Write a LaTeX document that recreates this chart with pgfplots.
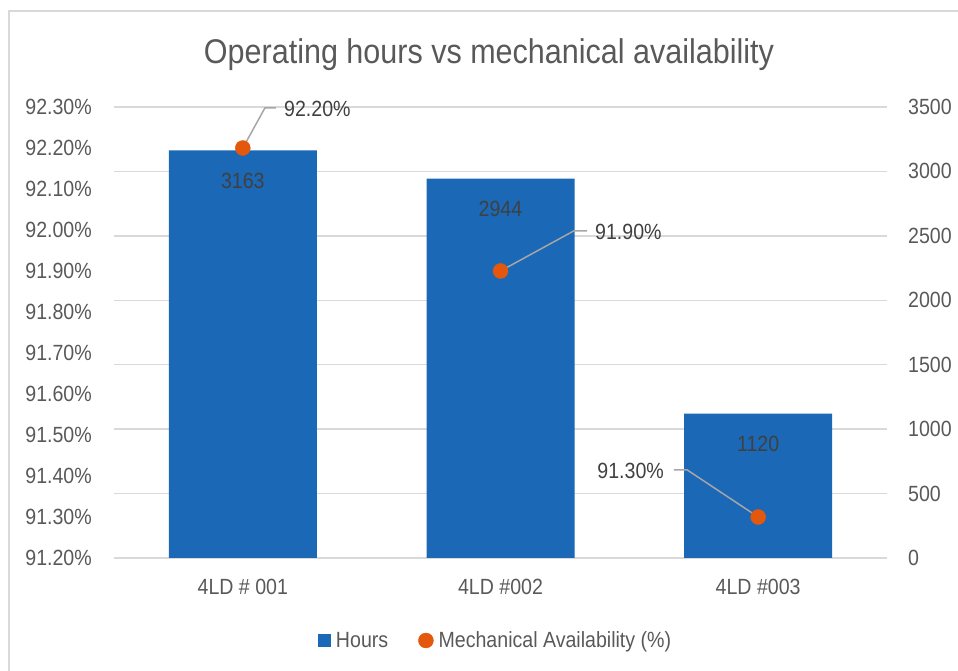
\documentclass[border=0pt]{standalone}
\usepackage{fontspec}
\setmainfont{Liberation Sans}[FakeStretch=0.89]
\usepackage{pgfplots}
\pgfplotsset{compat=1.18}
\pgfplotsset{/pgf/number format/assume math mode=true, /pgf/number format/1000 sep={}}

\definecolor{barblue}{RGB}{26,104,182}
\definecolor{dotorange}{RGB}{228,88,14}
\definecolor{gridgray}{RGB}{217,217,217}
\definecolor{txtgray}{RGB}{89,89,89}
\definecolor{lblgray}{RGB}{64,64,64}
\definecolor{leadgray}{RGB}{166,166,166}

\newcommand{\tickfont}{\fontsize{22}{26}\selectfont}

\begin{document}
\begin{tikzpicture}
\useasboundingbox (-114pt,-113pt) rectangle (844pt,558pt);
\draw[gridgray, line width=1.5pt] (-105pt,-130pt) -- (-105pt,547pt) -- (870pt,547pt);

% Bars (right axis)
\begin{axis}[
  at={(0pt,0pt)}, anchor=south west,
  scale only axis, width=773pt, height=451pt,
  xmin=-0.5, xmax=2.5, ymin=0, ymax=3500,
  ytick={0,500,1000,1500,2000,2500,3000,3500},
  xtick={0,1,2},
  xticklabels={4LD \# 001, 4LD \#002, 4LD \#003},
  scaled ticks=false,
  ymajorgrids, grid style={gridgray, line width=1.4pt},
  axis line style={draw=none},
  major tick length=0pt,
  tick label style={font=\tickfont, text=txtgray, inner sep=0pt},
  yticklabel pos=right,
  yticklabel style={anchor=west, xshift=21pt},
  xticklabel style={anchor=base, yshift=-37pt},
  legend columns=2,
  legend style={at={(0.2639,-0.1829)}, anchor=west, draw=none, fill=none,
    inner sep=0pt, outer sep=0pt, font=\tickfont, text=txtgray,
    nodes={inner sep=0pt},
    /tikz/every odd column/.append style={column sep=5pt},
    /tikz/every even column/.append style={column sep=30pt}},
]
\addplot[ybar, bar width=148pt, fill=barblue, draw=none,
  nodes near coords,
  every node near coord/.append style={anchor=base, yshift=-38pt, font=\tickfont, text=lblgray},
  legend image code/.code={\fill[barblue] (0pt,-6.5pt) rectangle (13pt,6.5pt);}]
  coordinates {(0,3163) (1,2944) (2,1120)};
\addlegendentry{Hours}
\addlegendimage{legend image code/.code={\fill[dotorange] (7.5pt,0pt) circle (7.5pt);}}
\addlegendentry{Mechanical Availability (\%)}
\end{axis}

% Availability (left axis)
\begin{axis}[
  at={(0pt,0pt)}, anchor=south west,
  scale only axis, width=773pt, height=451pt,
  xmin=-0.5, xmax=2.5, ymin=91.2, ymax=92.3,
  ytick={91.2,91.3,91.4,91.5,91.6,91.7,91.8,91.9,92.0,92.1,92.2,92.3},
  yticklabel={\pgfmathprintnumber[fixed, fixed zerofill, precision=2]{\tick}\%},
  scaled ticks=false,
  hide x axis,
  axis line style={draw=none},
  major tick length=0pt,
  tick label style={font=\tickfont, text=txtgray, inner sep=0pt},
  yticklabel pos=left,
  yticklabel style={anchor=east, xshift=-22pt},
  clip=false,
]
\addplot[only marks, mark=*, mark size=7.5pt, color=dotorange]
  coordinates {(0,92.2) (1,91.9) (2,91.3)};
\addplot[leadgray, line width=1.5pt, no marks] coordinates {(0,92.2) (0.086,92.298) (0.1287,92.298)};
\addplot[leadgray, line width=1.5pt, no marks] coordinates {(1,91.9) (1.285,91.998) (1.336,91.998)};
\addplot[leadgray, line width=1.5pt, no marks] coordinates {(2,91.3) (1.724,91.415) (1.673,91.415)};
\end{axis}

\node[anchor=base west, inner sep=0pt, font=\tickfont, text=lblgray] at (170pt,441pt) {92.20\%};
\node[anchor=base west, inner sep=0pt, font=\tickfont, text=lblgray] at (481pt,318pt) {91.90\%};
\node[anchor=base east, inner sep=0pt, font=\tickfont, text=lblgray] at (550pt,79pt) {91.30\%};

\node[anchor=base, inner sep=0pt, font=\fontsize{34.3}{40}\selectfont, text=txtgray] at (375pt,494pt) {Operating hours vs mechanical availability};
\end{tikzpicture}
\end{document}
